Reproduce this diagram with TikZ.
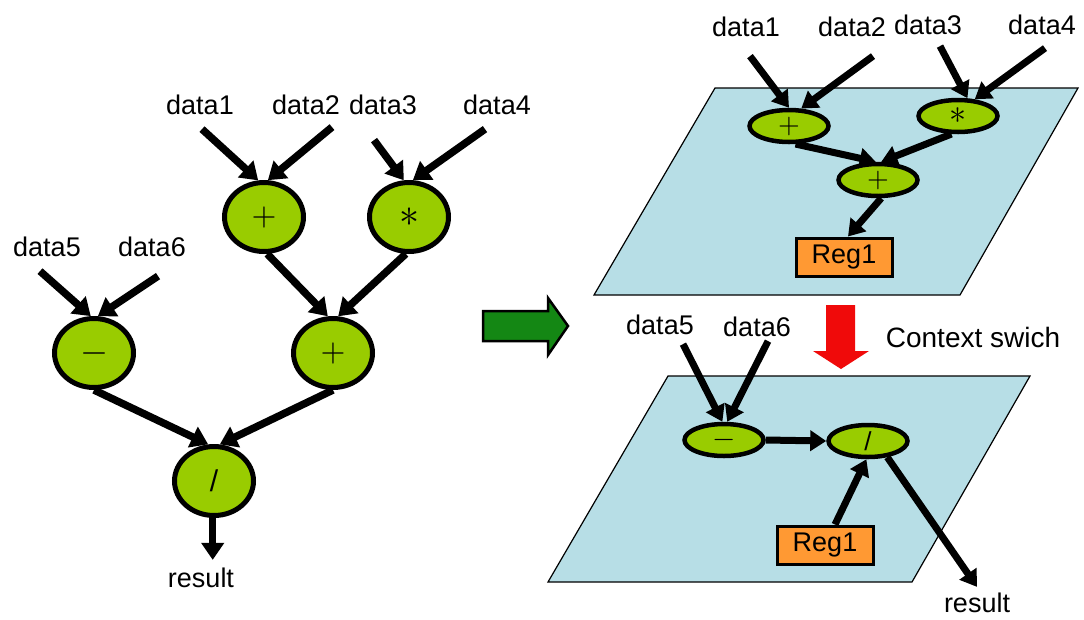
\documentclass[tikz,border=0pt]{standalone}
\usepackage{fontspec}
\setmainfont{Liberation Sans}
\usetikzlibrary{shapes.geometric,arrows.meta}
\definecolor{opgreen}{RGB}{153,204,0}
\definecolor{planeblue}{RGB}{183,222,230}
\definecolor{regorange}{RGB}{255,153,51}
\definecolor{movegreen}{RGB}{20,135,20}
\definecolor{switchred}{RGB}{240,10,10}
\newcommand{\opsym}[2]{\scalebox{#1}{$#2$}}
\begin{document}
\begin{tikzpicture}[x=1pt,y=-1pt,
  lbl/.style={inner sep=0pt, font=\fontsize{27}{30}\selectfont},
  opc/.style={ellipse, draw, line width=5pt, fill=opgreen, inner sep=0pt,
              minimum width=79pt, minimum height=69pt},
  ope/.style={ellipse, draw, line width=4.5pt, fill=opgreen, inner sep=0pt,
              minimum width=79pt, minimum height=32pt},
  reg/.style={draw, line width=3pt, fill=regorange, inner sep=0pt,
              minimum width=96pt, minimum height=38pt,
              font=\fontsize{27}{30}\selectfont},
  flow/.style={line width=7.5pt, -{Triangle[length=17pt,width=22pt]}},
  rflow/.style={line width=7pt, -{Triangle[length=16pt,width=20pt]}},
  layer/.style={draw, line width=1.2pt, fill=planeblue}]
\useasboundingbox (0,0) rectangle (1084,619);

% ---------- data-flow graph ----------
\node[lbl] (l1) at (200,105) {data1};
\node[lbl] (l2) at (306,105) {data2};
\node[lbl] (l3) at (383,105) {data3};
\node[lbl] (l4) at (497,105) {data4};
\node[lbl] (l5) at (47,247) {data5};
\node[lbl] (l6) at (152,247) {data6};

\node[opc] (ladd1) at (264,217) {\opsym{3.2}{+}};
\node[opc] (lmul)  at (409,217) {\opsym{4}{\ast}};
\node[opc] (lsub)  at (94,353)  {\opsym{3.6}{-}};
\node[opc] (ladd2) at (333,353) {\opsym{3.2}{+}};
\node[opc] (ldiv)  at (214,481) {\fontsize{30}{30}\selectfont /};
\node[lbl] (lres)  at (201,578) {result};

\draw[flow] ([shift={(2,14)}]l1.south) -- (ladd1.99);
\draw[flow] ([shift={(26,12)}]l2.south) -- (ladd1.84);
\draw[flow] ([shift={(-9,25)}]l3.south) -- (lmul.98);
\draw[flow] ([shift={(-12,14)}]l4.south) -- (lmul.84);
\draw[flow] ([shift={(-7,14)}]l5.south) -- (lsub.95);
\draw[flow] ([shift={(6,19)}]l6.south) -- (lsub.84);
\draw[flow] (ladd1.-85) -- (ladd2.98);
\draw[flow] (lmul.-95) -- (ladd2.82);
\draw[flow] (lsub.-90) -- (ldiv.99);
\draw[flow] (ladd2.-90) -- (ldiv.81);
\draw[flow] (ldiv.-92) -- ([yshift=8pt]ldiv.-92 |- lres.north);

% ---------- mapping arrow ----------
\draw[line width=2.5pt, fill=movegreen]
  (483,311) -- (548,311) -- (548,298) -- (568,326) -- (548,355)
  -- (548,341) -- (483,341) -- cycle;

% ---------- first configuration ----------
\draw[layer] (715,88) -- (1078,88) -- (960,295) -- (594,295) -- cycle;

\node[lbl] (r1) at (746,27) {data1};
\node[lbl] (r2) at (852,27) {data2};
\node[lbl] (r3) at (928,25) {data3};
\node[lbl] (r4) at (1042,25) {data4};

\node[ope] (radd1) at (789,126) {\opsym{2.8}{+}};
\node[ope] (rmul)  at (958,116) {\opsym{3.4}{\ast}};
\node[ope] (radd2) at (878,180) {\opsym{2.8}{+}};
\node[reg] (rreg1) at (844,257) {Reg1};

\draw[rflow] ([shift={(4,19)}]r1.south) -- (radd1.90);
\draw[rflow] ([shift={(21,19)}]r2.south) -- (radd1.55);
\draw[rflow] ([shift={(12,11)}]r3.south) -- (rmul.62);
\draw[rflow] ([shift={(3,13)}]r4.south) -- (rmul.45);
\draw[rflow] (radd1.-70) -- (radd2.97);
\draw[rflow] (rmul.-110) -- (radd2.80);
\draw[rflow] (radd2.-80) -- ([xshift=4pt]rreg1.north);

% ---------- context switch ----------
\fill[switchred] (826,305) -- (855,305) -- (855,351) -- (869,351)
  -- (841,369) -- (813,351) -- (826,351) -- cycle;
\node[lbl, font=\fontsize{28}{30}\selectfont] (ctx) at (973,337) {Context swich};

% ---------- second configuration ----------
\draw[layer] (668,376) -- (1030,376) -- (912,582) -- (548,582) -- cycle;

\node[lbl] (r5) at (660,325) {data5};
\node[lbl] (r6) at (757,327) {data6};

\node[ope] (bsub) at (724,440) {\opsym{3}{-}};
\node[ope] (bdiv) at (868,441) {\fontsize{26}{26}\selectfont /};
\node[reg] (breg) at (825,545) {Reg1};
\node[lbl] (rres) at (977,603) {result};

\draw[rflow] ([shift={(23,9)}]r5.south) -- (bsub.95);
\draw[rflow] ([shift={(11,4)}]r6.south) -- (bsub.80);
\draw[rflow] (bsub.east) -- (bdiv.west);
\draw[rflow] ([xshift=10pt]breg.north) -- (bdiv.-95);
\draw[rflow] (bdiv.-40) -- ([yshift=6pt]rres.north);
\end{tikzpicture}
\end{document}
